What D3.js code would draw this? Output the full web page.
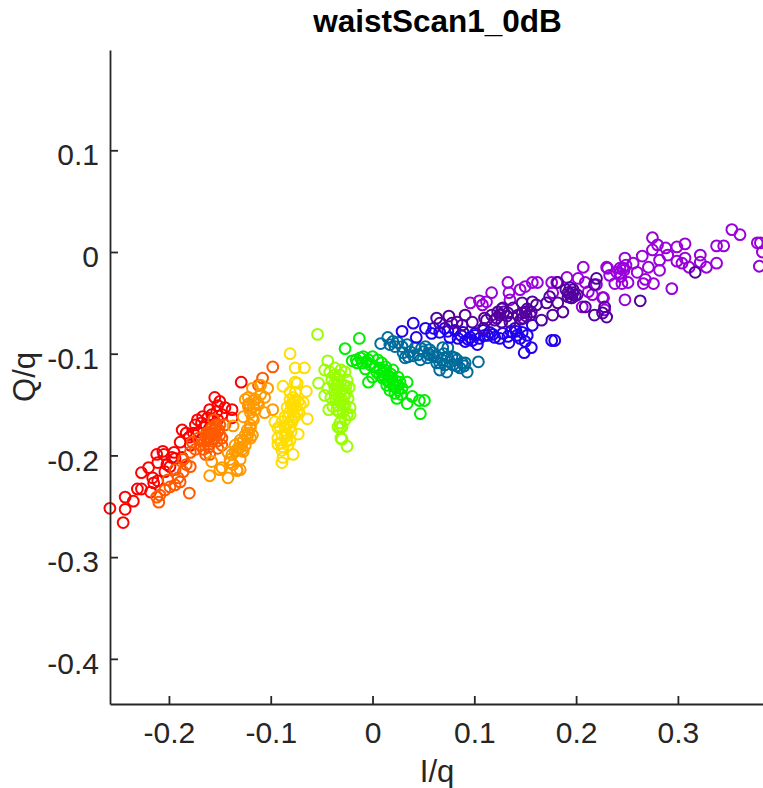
<!DOCTYPE html>
<html>
<head>
<meta charset="utf-8">
<script src="https://cdn.jsdelivr.net/npm/d3@7"></script>
<style>
  html, body { margin: 0; padding: 0; background: #fff; }
  svg { display: block; font-family: "Liberation Sans", Arial, sans-serif; }
</style>
</head>
<body>
<script>
// valores, [I/q, Q/q]
const rojo = [[-.258,-.252],[-.245,-.266],[-.243,-.253],[-.243,-.241],[-.235,-.245],[-.231,-.233],[-.227,-.233],[-.227,-.217],[-.220,-.212],[-.218,-.236],[-.215,-.227],[-.211,-.225],[-.212,-.199],[-.206,-.196],[-.211,-.207],[-.202,-.209],[-.199,-.211],[-.204,-.216],[-.195,-.197],[-.187,-.202],[-.189,-.187],[-.187,-.175],[-.183,-.178],[-.180,-.182],[-.174,-.170],[-.172,-.165],[-.167,-.162],[-.164,-.170],[-.160,-.155],[-.155,-.143],[-.150,-.147],[-.153,-.157],[-.162,-.163],[-.145,-.153],[-.148,-.160],[-.160,-.173],[-.169,-.185],[-.179,-.190],[-.171,-.177],[-.129,-.128],[-.152,-.165],[-.138,-.155],[-.138,-.163],[-.197,-.202],[-.216,-.222],[-.205,-.199],[-.194,-.203],[-.168,-.168],[-.176,-.178],[-.158,-.160],[-.152,-.151]];
const naranjaRojo = [[-.210,-.246],[-.212,-.241],[-.209,-.239],[-.204,-.234],[-.199,-.231],[-.194,-.229],[-.189,-.226],[-.180,-.237],[-.191,-.222],[-.186,-.216],[-.183,-.209],[-.179,-.211],[-.186,-.204],[-.194,-.214],[-.201,-.224],[-.174,-.194],[-.169,-.190],[-.166,-.194],[-.162,-.185],[-.158,-.180],[-.155,-.175],[-.152,-.177],[-.160,-.177],[-.156,-.183],[-.150,-.180],[-.164,-.182],[-.158,-.173],[-.154,-.170],[-.148,-.183],[-.161,-.192],[-.171,-.183],[-.177,-.187],[-.160,-.199],[-.148,-.190],[-.152,-.193],[-.164,-.199],[-.179,-.197],[-.156,-.165],[-.098,-.113],[-.108,-.124],[-.112,-.131],[-.122,-.150],[-.145,-.170],[-.160,-.183],[-.157,-.178],[-.154,-.180],[-.151,-.175],[-.163,-.178],[-.158,-.186],[-.153,-.186],[-.165,-.186],[-.155,-.172],[-.150,-.170]];
const naranja = [[-.160,-.220],[-.158,-.206],[-.150,-.214],[-.142,-.222],[-.140,-.207],[-.133,-.214],[-.130,-.214],[-.130,-.204],[-.135,-.196],[-.132,-.193],[-.125,-.190],[-.130,-.185],[-.128,-.194],[-.138,-.199],[-.120,-.183],[-.123,-.175],[-.120,-.170],[-.117,-.165],[-.137,-.171],[-.127,-.162],[-.125,-.145],[-.122,-.143],[-.118,-.134],[-.110,-.131],[-.103,-.134],[-.106,-.143],[-.098,-.155],[-.106,-.158],[-.117,-.152],[-.112,-.150],[-.122,-.152],[-.118,-.163],[-.120,-.173],[-.123,-.182],[-.130,-.188],[-.133,-.195],[-.127,-.196],[-.142,-.197],[-.148,-.212],[-.133,-.215],[-.118,-.180],[-.115,-.145],[-.110,-.140],[-.115,-.155],[-.140,-.204],[-.137,-.209],[-.127,-.186],[-.125,-.180],[-.122,-.178],[-.130,-.192],[-.135,-.190],[-.121,-.149],[-.117,-.146],[-.113,-.148],[-.120,-.158]];
const amarillo = [[-.081,-.100],[-.076,-.114],[-.067,-.114],[-.076,-.128],[-.088,-.132],[-.065,-.137],[-.096,-.167],[-.064,-.164],[-.073,-.179],[-.078,-.199],[-.088,-.202],[-.089,-.207],[-.093,-.189],[-.093,-.173],[-.086,-.182],[-.081,-.185],[-.083,-.162],[-.078,-.155],[-.081,-.145],[-.076,-.138],[-.073,-.147],[-.071,-.150],[-.076,-.162],[-.086,-.172],[-.089,-.180],[-.081,-.172],[-.086,-.162],[-.078,-.143],[-.084,-.153],[-.089,-.167],[-.079,-.167],[-.078,-.150],[-.093,-.183],[-.083,-.190],[-.088,-.192],[-.089,-.195],[-.068,-.148],[-.081,-.138],[-.074,-.129],[-.091,-.172],[-.078,-.160],[-.082,-.158],[-.075,-.152],[-.080,-.150],[-.074,-.157],[-.079,-.165],[-.084,-.170],[-.080,-.177],[-.085,-.178],[-.072,-.158],[-.076,-.146],[-.084,-.185],[-.090,-.188]];
const limon = [[-.054,-.081],[-.044,-.107],[-.053,-.129],[-.047,-.116],[-.047,-.141],[-.043,-.155],[-.034,-.172],[-.030,-.184],[-.022,-.160],[-.032,-.168],[-.030,-.172],[-.025,-.191],[-.031,-.183],[-.032,-.173],[-.042,-.118],[-.037,-.114],[-.032,-.121],[-.027,-.118],[-.040,-.126],[-.034,-.128],[-.028,-.131],[-.023,-.133],[-.037,-.136],[-.032,-.138],[-.026,-.139],[-.041,-.143],[-.036,-.145],[-.030,-.145],[-.024,-.144],[-.039,-.152],[-.034,-.151],[-.027,-.150],[-.022,-.153],[-.033,-.157],[-.029,-.157],[-.025,-.160],[-.044,-.134],[-.037,-.121],[-.031,-.116],[-.025,-.126],[-.027,-.165],[-.035,-.130],[-.030,-.135],[-.036,-.140],[-.032,-.147],[-.028,-.142],[-.034,-.125],[-.029,-.150],[-.038,-.130],[-.026,-.132],[-.033,-.143],[-.035,-.155]];
const verde = [[-.013,-.085],[-.027,-.095],[-.020,-.107],[-.016,-.106],[-.012,-.104],[-.009,-.103],[-.004,-.106],[0,-.103],[.005,-.106],[.009,-.109],[-.010,-.109],[-.007,-.115],[-.002,-.111],[.002,-.113],[-.004,-.128],[0,-.123],[.007,-.121],[.012,-.116],[.015,-.121],[.020,-.116],[.025,-.123],[.034,-.128],[.020,-.128],[.014,-.131],[.017,-.136],[.025,-.131],[.029,-.134],[.024,-.144],[.034,-.149],[.039,-.142],[.046,-.146],[.051,-.146],[.047,-.159],[.007,-.114],[.010,-.124],[.019,-.124],[.022,-.139],[.027,-.128],[.015,-.126],[.004,-.118],[.012,-.123],[.016,-.128],[.021,-.132],[.018,-.120],[.023,-.127],[.010,-.118],[.028,-.140],[.025,-.136],[.013,-.113],[-.006,-.108],[-.015,-.109]];
const azulVerde = [[.008,-.090],[.015,-.084],[.020,-.088],[.017,-.091],[.025,-.089],[.029,-.093],[.034,-.091],[.032,-.104],[.035,-.103],[.042,-.094],[.045,-.101],[.052,-.093],[.056,-.096],[.047,-.106],[.054,-.104],[.059,-.099],[.063,-.103],[.069,-.094],[.074,-.094],[.068,-.106],[.074,-.104],[.073,-.118],[.066,-.116],[.083,-.106],[.079,-.111],[.088,-.109],[.093,-.118],[.104,-.108],[.037,-.098],[.030,-.099],[.056,-.101],[.063,-.109],[.071,-.111],[.086,-.114],[.091,-.109],[.078,-.103],[.050,-.098],[.055,-.100],[.048,-.095],[.060,-.103],[.076,-.108],[.081,-.104],[.070,-.100],[.066,-.109],[.090,-.112],[.083,-.112],[.022,-.093],[.040,-.102]];
const azul = [[.029,-.078],[.040,-.070],[.043,-.084],[.052,-.075],[.058,-.080],[.066,-.079],[.071,-.075],[.076,-.084],[.081,-.077],[.084,-.085],[.091,-.088],[.096,-.084],[.103,-.091],[.101,-.080],[.110,-.082],[.089,-.079],[.101,-.082],[.113,-.082],[.120,-.084],[.125,-.085],[.134,-.089],[.140,-.075],[.145,-.085],[.152,-.082],[.147,-.079],[.149,-.099],[.156,-.094],[.176,-.087],[.179,-.087],[.157,-.072],[.109,-.077],[.098,-.087],[.115,-.079],[.128,-.080],[.142,-.082],[.074,-.078],[.087,-.082],[.094,-.086],[.105,-.085],[.118,-.081],[.133,-.083],[.141,-.078],[.150,-.088],[.136,-.078],[.060,-.075]];
const violeta = [[.096,-.050],[.108,-.052],[.112,-.049],[.117,-.040],[.133,-.030],[.134,-.040],[.145,-.037],[.150,-.034],[.157,-.030],[.162,-.030],[.181,-.030],[.176,-.030],[.177,-.040],[.191,-.025],[.207,-.015],[.202,-.026],[.209,-.030],[.212,-.039],[.220,-.032],[.226,-.045],[.230,-.015],[.216,-.042],[.206,-.054],[.353,.022],[.361,.017],[.338,.006],[.345,.006],[.378,.009],[.381,.009],[.383,0],[.380,-.014],[.338,-.011],[.322,-.003],[.307,.008],[.299,.005],[.275,.014],[.280,.007],[.288,.004],[.290,-.003],[.275,.002],[.265,-.004],[.248,-.006],[.231,-.016],[.256,-.011],[.271,-.015],[.282,-.008],[.282,-.018],[.299,-.009],[.304,-.011],[.307,-.006],[.311,-.015],[.322,-.010],[.328,-.015],[.260,-.020],[.246,-.016],[.233,-.023],[.243,-.021],[.251,-.030],[.238,-.031],[.245,-.031],[.268,-.027],[.266,-.031],[.276,-.031],[.294,-.036],[.248,-.047],[.227,-.045],[.228,-.057],[.247,-.018],[.243,-.016],[.249,-.013],[.135,-.047],[.105,-.048],[.240,-.020],[.244,-.024]];
const indigo = [[.063,-.065],[.075,-.063],[.091,-.062],[.083,-.069],[.098,-.069],[.078,-.070],[.066,-.070],[.088,-.072],[.112,-.067],[.109,-.075],[.110,-.065],[.117,-.062],[.123,-.059],[.128,-.055],[.133,-.060],[.138,-.055],[.120,-.067],[.127,-.069],[.135,-.069],[.143,-.062],[.150,-.059],[.147,-.050],[.157,-.049],[.161,-.052],[.155,-.062],[.148,-.065],[.166,-.067],[.177,-.062],[.187,-.059],[.171,-.050],[.182,-.050],[.192,-.040],[.197,-.040],[.194,-.035],[.201,-.042],[.182,-.030],[.209,-.054],[.218,-.062],[.228,-.054],[.226,-.060],[.220,-.026],[.218,-.032],[.230,-.064],[.196,-.045],[.174,-.044],[.317,-.020],[.263,-.048],[.125,-.062],[.129,-.059],[.132,-.063],[.127,-.056],[.122,-.065],[.147,-.060],[.151,-.063],[.146,-.066],[.152,-.056],[.156,-.059],[.194,-.041],[.192,-.044],[.197,-.037],[.199,-.043],[.190,-.037],[.195,-.045]];

const seriesPuntos = [rojo, naranjaRojo, naranja, amarillo, limon, verde, azulVerde, azul, violeta, indigo];
const seriesColores = ["#ff0000", "#ff5a00", "#ff9a00", "#ffdd00", "#99ff00", "#00ee00", "#006c9c", "#2000ee", "#9a00dc", "#5400a0"];
const ticksX = [-0.2, -0.1, 0, 0.1, 0.2, 0.3];
const ticksY = [-0.4, -0.3, -0.2, -0.1, 0, 0.1];

const WIDTH = 763;
const HEIGHT = 788;
const MARGIN = { top: 50, right: 0, left: 110, bottom: 84 };
const COLOR_TEXTO = "#262626";

const svg = d3.select("body")
    .append("svg")
    .attr("width", WIDTH)
    .attr("height", HEIGHT);

const escalaX = d3.scaleLinear()
    .domain([-0.2579, 0.3836])
    .range([MARGIN.left, WIDTH - MARGIN.right]);

const escalaY = d3.scaleLinear()
    .domain([-0.4444, 0.1986])
    .range([HEIGHT - MARGIN.bottom, MARGIN.top]);

const formato = (d) => d === 0 ? "0" : d3.format(".1f")(d).replace("−", "-");

const ejeX = d3.axisBottom(escalaX)
    .tickValues(ticksX)
    .tickFormat(formato)
    .tickSizeInner(-8)
    .tickSizeOuter(0)
    .tickPadding(18);

const ejeY = d3.axisLeft(escalaY)
    .tickValues(ticksY)
    .tickFormat(formato)
    .tickSizeInner(-8)
    .tickSizeOuter(0)
    .tickPadding(11);

// puntos
seriesPuntos.forEach((puntos, i) => {
    svg.append("g")
        .selectAll("circle")
        .data(puntos)
        .join("circle")
        .attr("cx", (d) => escalaX(d[0]))
        .attr("cy", (d) => escalaY(d[1]))
        .attr("r", 5.4)
        .attr("fill", "none")
        .attr("stroke", seriesColores[i])
        .attr("stroke-width", 2);
});

// ejes
const gX = svg.append("g")
    .attr("transform", `translate(0 ${HEIGHT - MARGIN.bottom})`)
    .call(ejeX);

const gY = svg.append("g")
    .attr("transform", `translate(${MARGIN.left} 0)`)
    .call(ejeY);

[gX, gY].forEach((g) => {
    g.selectAll("path, line").attr("stroke", COLOR_TEXTO).attr("stroke-width", 1.8);
    g.selectAll("text")
        .attr("fill", COLOR_TEXTO)
        .attr("font-size", 30)
        .attr("font-family", '"Liberation Sans", Arial, sans-serif');
});

// en el original las etiquetas de Y quedan un poco bajo la marca
gY.selectAll("text").attr("dy", "0.49em");

// textos
svg.append("text")
    .attr("x", 437.5)
    .attr("y", 32)
    .attr("text-anchor", "middle")
    .attr("font-size", 31.5)
    .attr("font-weight", "bold")
    .attr("fill", "#000")
    .text("waistScan1_0dB");

svg.append("text")
    .attr("x", 437)
    .attr("y", 782)
    .attr("text-anchor", "middle")
    .attr("font-size", 31)
    .attr("fill", COLOR_TEXTO)
    .text("I/q");

svg.append("text")
    .attr("transform", "translate(35 377) rotate(-90)")
    .attr("text-anchor", "middle")
    .attr("font-size", 31)
    .attr("fill", COLOR_TEXTO)
    .text("Q/q");
</script>
</body>
</html>
